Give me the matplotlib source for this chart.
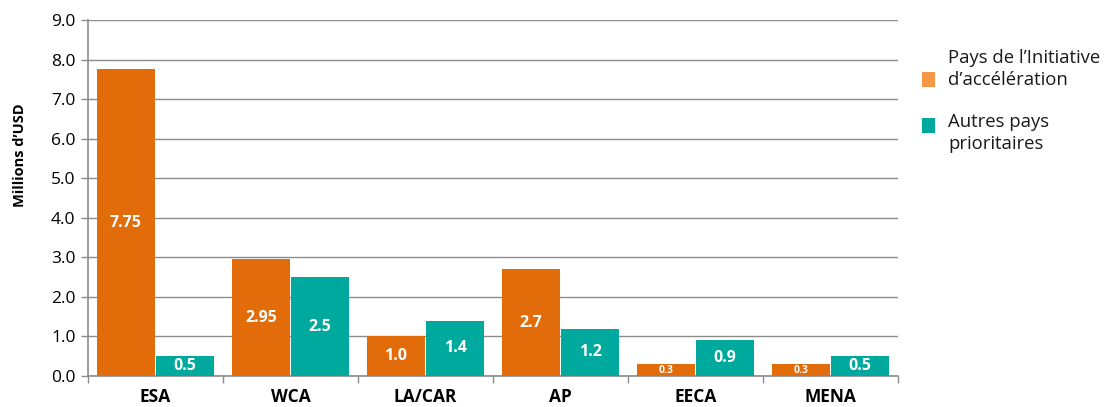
import matplotlib
matplotlib.use("Agg")
import matplotlib.pyplot as plt
import numpy as np
from matplotlib.patches import Rectangle

categories = ["ESA", "WCA", "LA/CAR", "AP", "EECA", "MENA"]
accel = [7.75, 2.95, 1.0, 2.7, 0.3, 0.3]
autres = [0.5, 2.5, 1.4, 1.2, 0.9, 0.5]
accel_labels = ["7.75", "2.95", "1.0", "2.7", "0.3", "0.3"]
autres_labels = ["0.5", "2.5", "1.4", "1.2", "0.9", "0.5"]
series_names = ["Pays de l\u2019Initiative\nd\u2019acc\u00e9l\u00e9ration", "Autres pays\nprioritaires"]

plt.rcParams['font.family'] = ['Open Sans', 'DejaVu Sans']

c_orange = "#E36C0A"
c_teal = "#00A99D"
c_orange_leg = "#F79646"

W, H = 1106, 407
fig = plt.figure(figsize=(W / 100, H / 100), dpi=100)
ax = fig.add_axes([88 / W, 1 - 376 / H, (898 - 88) / W, (376 - 20) / H])

x = np.arange(len(categories))
w = 0.43
b1 = ax.bar(x - w / 2 - 0.005, accel, w, color=c_orange, zorder=3)
b2 = ax.bar(x + w / 2 + 0.005, autres, w, color=c_teal, zorder=3)

for rect, lab, v in zip(b1, accel_labels, accel):
    fs = 7.5 if v < 0.5 else 11.5
    ax.text(rect.get_x() + rect.get_width() / 2, v / 2, lab, ha="center", va="center",
            color="white", fontweight="bold", fontsize=fs, zorder=4)
for rect, lab, v in zip(b2, autres_labels, autres):
    ax.text(rect.get_x() + rect.get_width() / 2, v / 2, lab, ha="center", va="center",
            color="white", fontweight="bold", fontsize=11.5, zorder=4)

ax.set_xlim(-0.5, len(categories) - 0.5)
ax.set_ylim(0, 9)
yt = np.arange(0, 9.5, 1.0)
ax.set_yticks(yt)
ax.set_yticklabels([f"{v:.1f}" for v in yt], fontsize=12.5)
ax.yaxis.grid(True, color="#8c8c8c", linewidth=1.0, zorder=0)
ax.set_axisbelow(True)

ax.set_xticks(x)
ax.set_xticklabels(categories, fontsize=12.5, fontweight="bold")
ax.tick_params(axis="x", which="major", length=0, pad=9)
ax.set_xticks(np.arange(-0.5, len(categories), 1.0), minor=True)
ax.tick_params(axis="x", which="minor", length=5, color="#8c8c8c", width=1)
ax.tick_params(axis="y", length=5, color="#8c8c8c", width=1, pad=4)

for s in ["top", "right"]:
    ax.spines[s].set_visible(False)
for s in ["left", "bottom"]:
    ax.spines[s].set_color("#8c8c8c")
    ax.spines[s].set_linewidth(1.2)

fig.text(20 / W, 1 - 155 / H, "Millions d\u2019USD", rotation=90, ha="center", va="center",
         fontsize=10.5, fontweight="bold")

# Legend (drawn manually to match layout)
leg_colors = [c_orange_leg, c_teal]
patch_y = [80, 126]
text_y = [69, 133]
for col, py, ty, name in zip(leg_colors, patch_y, text_y, series_names):
    fig.patches.append(Rectangle((922 / W, 1 - (py + 7) / H), 13 / W, 15 / H,
                                 transform=fig.transFigure, facecolor=col, edgecolor="none"))
    fig.text(948 / W, 1 - ty / H, name, ha="left", va="center", fontsize=13.3,
             color="#1a1a1a", linespacing=1.25)

fig.savefig("out.png", dpi=100)
